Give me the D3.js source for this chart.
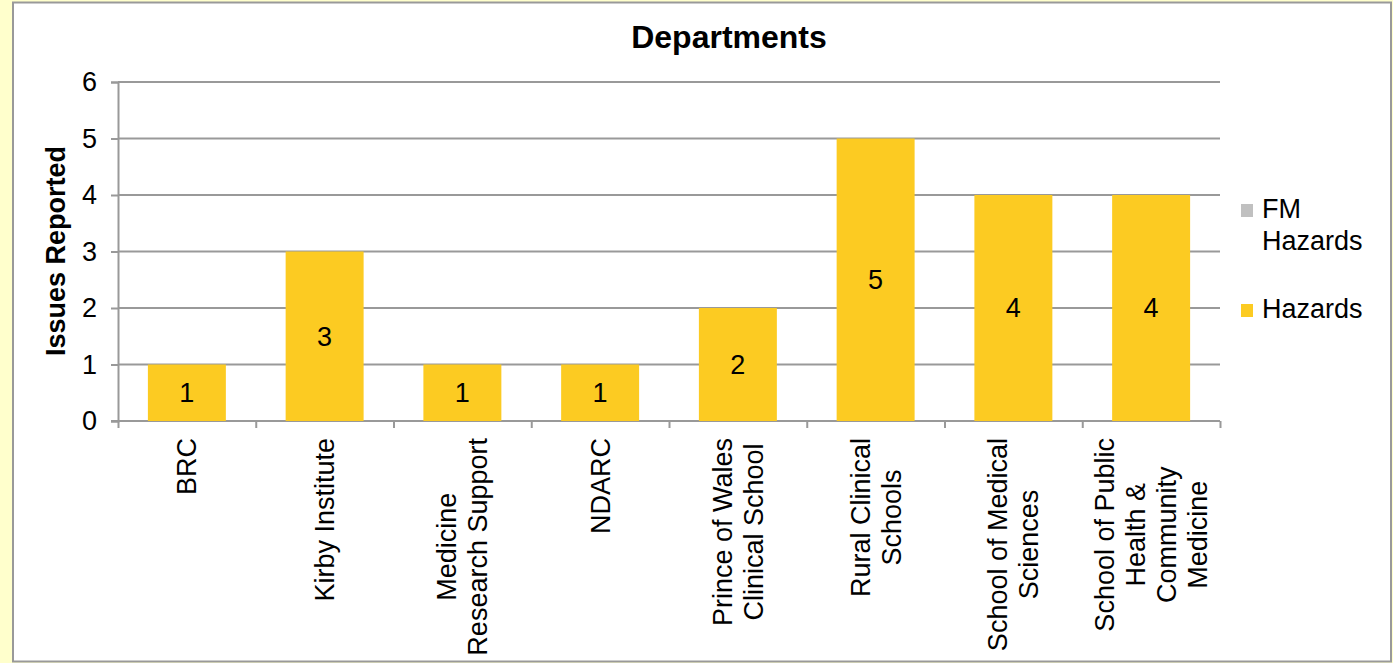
<!DOCTYPE html>
<html>
<head>
<meta charset="utf-8">
<script src="https://cdn.jsdelivr.net/npm/d3@7"></script>
<style>
  body { margin: 0; background: #FFFFCC; }
  text { font-family: "Liberation Sans", Arial, sans-serif; fill: #000; }
</style>
</head>
<body>
<div id="chart"></div>
<script>
// chart data
var categories = ["BRC", "Kirby Institute", "Medicine Research Support", "NDARC",
  "Prince of Wales Clinical School", "Rural Clinical Schools",
  "School of Medical Sciences", "School of Public Health & Community Medicine"];
var categoryLines = [["BRC"], ["Kirby Institute"], ["Medicine", "Research Support"], ["NDARC"],
  ["Prince of Wales", "Clinical School"], ["Rural Clinical", "Schools"],
  ["School of Medical", "Sciences"], ["School of Public", "Health &", "Community", "Medicine"]];
var hazards = [1, 3, 1, 1, 2, 5, 4, 4];
var fmHazards = [0, 0, 0, 0, 0, 0, 0, 0];
var yTicks = [0, 1, 2, 3, 4, 5, 6];
var seriesNames = ["FM Hazards", "Hazards"];

var svgWidth = 1393, svgHeight = 663;
var margin = {top: 82, left: 118};
var plotW = 1220 - 118, plotH = 421 - 82;

var svg = d3.select("#chart").append("svg")
  .attr("width", svgWidth)
  .attr("height", svgHeight);

// frame
svg.append("rect")
  .attr("x", 13).attr("y", 2.5)
  .attr("width", 1378).attr("height", 659)
  .attr("fill", "#fff")
  .attr("stroke", "#999").attr("stroke-width", 2);

var chartGroup = svg.append("g")
  .attr("transform", `translate(${margin.left}, ${margin.top})`);

var xScale = d3.scaleBand()
  .domain(categories)
  .range([0, plotW])
  .paddingInner(0.434)
  .paddingOuter(0.217);

var xEdges = d3.scaleLinear().domain([0, categories.length]).range([0, plotW]);

var yScale = d3.scaleLinear()
  .domain([0, 6])
  .range([plotH, 0]);

// gridlines
chartGroup.selectAll("line.grid")
  .data(yTicks.slice(1))
  .enter().append("line")
  .attr("class", "grid")
  .attr("x1", 0).attr("x2", plotW)
  .attr("y1", d => yScale(d)).attr("y2", d => yScale(d))
  .attr("stroke", "#999").attr("stroke-width", 2);

// y axis
var leftAxis = d3.axisLeft(yScale).tickValues(yTicks).tickFormat(d3.format("d"))
  .tickSize(7).tickPadding(14);
var yAxis = chartGroup.append("g").call(leftAxis);
yAxis.select(".domain").attr("stroke", "#999").attr("stroke-width", 2);
yAxis.selectAll(".tick line").attr("stroke", "#999").attr("stroke-width", 2);
yAxis.selectAll(".tick text")
  .style("font-size", "27px")
  .style("font-family", "Liberation Sans, Arial, sans-serif")
  .attr("fill", "#000");

// x axis with ticks at category boundaries
var bottomAxis = d3.axisBottom(xEdges)
  .tickValues(d3.range(categories.length + 1))
  .tickSize(7).tickFormat("");
var xAxis = chartGroup.append("g")
  .attr("transform", `translate(0, ${plotH})`)
  .call(bottomAxis);
xAxis.select(".domain").attr("stroke", "#999").attr("stroke-width", 2)
  .attr("d", `M-7,0H${plotW}`);
xAxis.selectAll(".tick line").attr("stroke", "#999").attr("stroke-width", 2);

// bars
chartGroup.selectAll("rect.bar")
  .data(hazards)
  .enter().append("rect")
  .attr("class", "bar")
  .attr("x", (d, i) => xScale(categories[i]))
  .attr("y", d => yScale(d))
  .attr("width", xScale.bandwidth())
  .attr("height", d => plotH - yScale(d))
  .attr("fill", "#FCCB22");

// value labels
chartGroup.selectAll("text.val")
  .data(hazards)
  .enter().append("text")
  .attr("class", "val")
  .attr("x", (d, i) => xScale(categories[i]) + xScale.bandwidth() / 2)
  .attr("y", d => yScale(d / 2))
  .attr("dy", "0.35em")
  .attr("text-anchor", "middle")
  .style("font-size", "27px")
  .text(d => d);

// category labels, rotated, lines centred on each other
categoryLines.forEach(function(lines, i) {
  var cx = xScale(categories[i]) + xScale.bandwidth() / 2;
  var g = chartGroup.append("g")
    .attr("transform", `translate(${cx}, ${plotH + 17}) rotate(-90)`);
  var texts = lines.map(function(line, j) {
    return g.append("text")
      .attr("text-anchor", "middle")
      .attr("y", (j - (lines.length - 1) / 2) * 31 + 9.5)
      .style("font-size", "27px")
      .text(line);
  });
  var maxLen = d3.max(texts, t => t.node().getComputedTextLength());
  texts.forEach(t => t.attr("x", -maxLen / 2));
});

// title
svg.append("text")
  .attr("x", 729).attr("y", 48)
  .attr("text-anchor", "middle")
  .style("font-size", "32px")
  .style("font-weight", "bold")
  .text("Departments");

// y axis title
svg.append("text")
  .attr("transform", "rotate(-90)")
  .attr("x", -251).attr("y", 65)
  .attr("text-anchor", "middle")
  .style("font-size", "27px")
  .style("font-weight", "bold")
  .text("Issues Reported");

// legend
var legendColors = ["#C0C0C0", "#FCCB22"];
var legendLines = [["FM", "Hazards"], ["Hazards"]];
var legendY = [204, 304];
seriesNames.forEach(function(name, i) {
  svg.append("rect")
    .attr("x", 1241).attr("y", legendY[i])
    .attr("width", 12).attr("height", 13)
    .attr("fill", legendColors[i]);
  legendLines[i].forEach(function(line, j) {
    svg.append("text")
      .attr("x", 1262).attr("y", legendY[i] + 14 + j * 32)
      .style("font-size", "27px")
      .text(line);
  });
});
</script>
</body>
</html>
